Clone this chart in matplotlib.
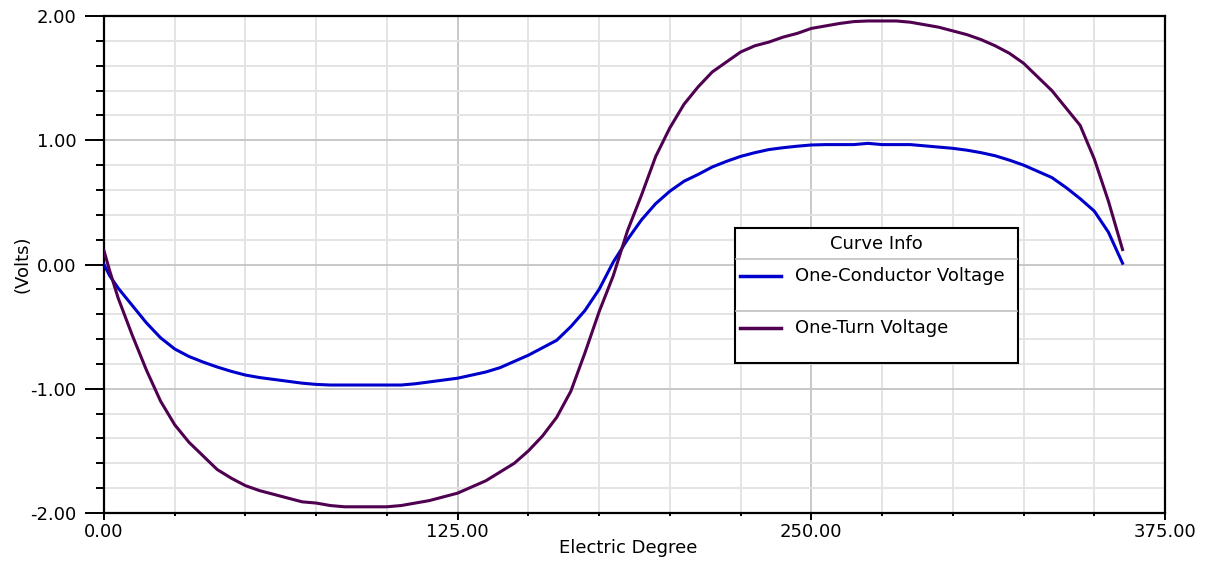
import matplotlib
matplotlib.use('Agg')
import matplotlib.pyplot as plt
from matplotlib.ticker import MultipleLocator, FormatStrFormatter
from matplotlib.patches import Rectangle
from matplotlib.lines import Line2D

# electric degree samples
deg = [0, 2, 5, 10, 15, 20, 25, 30, 35, 40, 45, 50, 55, 60, 65, 70, 75, 80,
       85, 90, 95, 100, 105, 110, 115, 120, 125, 130, 135, 140, 145, 150,
       155, 160, 165, 170, 175, 180, 185, 190, 195, 200, 205, 210, 215, 220,
       225, 230, 235, 240, 245, 250, 255, 260, 265, 270, 275, 280, 285, 290,
       295, 300, 305, 310, 315, 320, 325, 330, 335, 340, 345, 350, 355, 360]

# one-conductor voltage (V)
v_cond = [0.0, -0.09, -0.19, -0.33, -0.47, -0.59, -0.68, -0.74, -0.785, -0.825,
          -0.86, -0.89, -0.91, -0.925, -0.94, -0.955, -0.965, -0.97, -0.97,
          -0.97, -0.97, -0.97, -0.97, -0.96, -0.945, -0.93, -0.915, -0.89,
          -0.865, -0.83, -0.78, -0.73, -0.67, -0.61, -0.5, -0.37, -0.2, 0.02,
          0.2, 0.36, 0.49, 0.59, 0.67, 0.725, 0.785, 0.83, 0.87, 0.9, 0.925,
          0.94, 0.952, 0.962, 0.965, 0.965, 0.965, 0.975, 0.965, 0.965, 0.965,
          0.955, 0.945, 0.935, 0.92, 0.9, 0.875, 0.84, 0.8, 0.75, 0.7, 0.62,
          0.53, 0.43, 0.26, 0.01]

# one-turn voltage (V)
v_turn = [0.11, -0.05, -0.27, -0.57, -0.85, -1.1, -1.29, -1.43, -1.54, -1.65,
          -1.72, -1.78, -1.82, -1.85, -1.88, -1.91, -1.92, -1.94, -1.95, -1.95,
          -1.95, -1.95, -1.94, -1.92, -1.9, -1.87, -1.84, -1.79, -1.74, -1.67,
          -1.6, -1.5, -1.38, -1.23, -1.02, -0.71, -0.38, -0.09, 0.27, 0.56,
          0.87, 1.1, 1.29, 1.43, 1.55, 1.63, 1.71, 1.76, 1.79, 1.83, 1.86, 1.9,
          1.92, 1.94, 1.955, 1.96, 1.96, 1.96, 1.95, 1.93, 1.91, 1.88, 1.85,
          1.81, 1.76, 1.7, 1.62, 1.51, 1.4, 1.26, 1.12, 0.85, 0.51, 0.12]

names = ['One-Conductor Voltage', 'One-Turn Voltage']
colors = ['#0000cc', '#4f0050']

plt.rcParams['font.family'] = ['DejaVu Sans']
plt.rcParams['font.size'] = 13

fig = plt.figure(figsize=(12.11, 5.72), dpi=100)
ax = fig.add_axes([104 / 1211, 1 - 513 / 572, 1061 / 1211, 497 / 572])

ax.plot(deg, v_cond, color=colors[0], lw=2.2, zorder=3)
ax.plot(deg, v_turn, color=colors[1], lw=2.2, zorder=3)

ax.set_xlim(0, 375)
ax.set_ylim(-2, 2)
ax.xaxis.set_major_locator(MultipleLocator(125))
ax.xaxis.set_minor_locator(MultipleLocator(25))
ax.yaxis.set_major_locator(MultipleLocator(1))
ax.yaxis.set_minor_locator(MultipleLocator(0.2))
ax.xaxis.set_major_formatter(FormatStrFormatter('%.2f'))
ax.yaxis.set_major_formatter(FormatStrFormatter('%.2f'))

ax.grid(which='major', color='#c8c8c8', lw=1.4, zorder=0)
ax.grid(which='minor', color='#e4e4e4', lw=1.4, zorder=0)
ax.set_axisbelow(True)

for s in ax.spines.values():
    s.set_linewidth(1.6)
    s.set_color('black')

ax.tick_params(axis='y', which='major', length=14, width=1.4, pad=6, direction='out')
ax.tick_params(axis='y', which='minor', length=6, width=1.4, direction='out')
ax.tick_params(axis='x', which='major', length=5, width=1.4, pad=2, direction='out')
ax.tick_params(axis='x', which='minor', length=2.5, width=1.4, direction='out')

ax.set_xlabel('Electric Degree')
ax.set_ylabel('(Volts)')
ax.xaxis.set_label_coords(0.494, -0.052)
ax.yaxis.set_label_coords(-0.068, 0.5)

# legend box drawn like the original "Curve Info" panel
def fx(px):
    return px / 1211

def fy(py):
    return 1 - py / 572

fig.add_artist(Rectangle((fx(735), fy(363)), fx(1018) - fx(735), fy(228) - fy(363),
                         facecolor='white', edgecolor='black', lw=1.5, zorder=5,
                         transform=fig.transFigure))
fig.text(fx(876.5), fy(244), 'Curve Info', ha='center', va='center', zorder=6)
for yy in (259, 311):
    fig.add_artist(Line2D([fx(736), fx(1017)], [fy(yy), fy(yy)], color='#c0c0c0',
                          lw=1.2, zorder=6, transform=fig.transFigure))
for i, yy in enumerate((276, 328)):
    fig.add_artist(Line2D([fx(740), fx(781)], [fy(yy), fy(yy)], color=colors[i],
                          lw=2.5, zorder=6, transform=fig.transFigure))
    fig.text(fx(795), fy(yy), names[i], ha='left', va='center', zorder=6)

fig.savefig('out.png', dpi=100)
